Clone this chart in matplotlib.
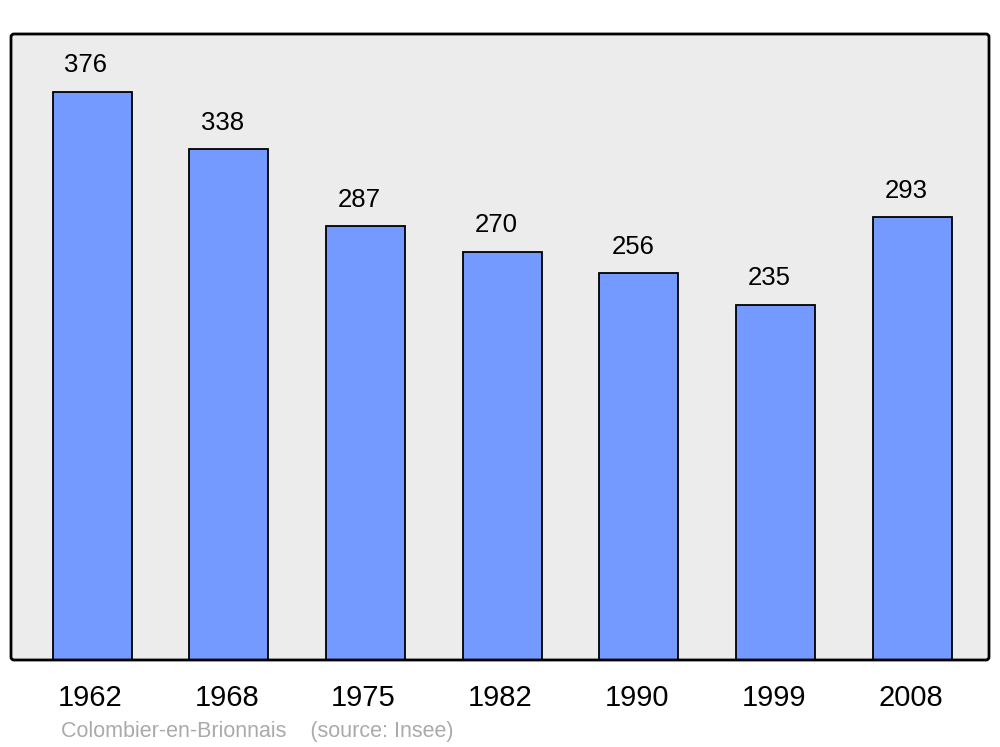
import matplotlib
matplotlib.use("Agg")
import matplotlib.pyplot as plt
import matplotlib.transforms as mtransforms
from matplotlib.patches import FancyBboxPatch

years = ["1962", "1968", "1975", "1982", "1990", "1999", "2008"]
population = [376, 338, 287, 270, 256, 235, 293]
footer = "Colombier-en-Brionnais    (source: Insee)"

plt.rcParams['font.family'] = ['Liberation Sans', 'DejaVu Sans']

fig = plt.figure(figsize=(10, 7.47), dpi=100)
ax = fig.add_axes([0.011, 1 - 660/747, 0.978, (660-34)/747])
ax.set_facecolor('#ececec')
x = list(range(len(years)))
ax.bar(x, population, width=0.578, color='#7499ff', edgecolor='black', linewidth=1.3, zorder=2)
for xi, v in zip(x, population):
    ax.annotate(str(v), (xi, v), xytext=(-4.5, 10.5), textcoords='offset points',
                ha='center', va='bottom', fontsize=18.5)
ax.set_xlim(-0.593, 6.56)
ax.set_ylim(0, 414.3)
ax.set_yticks([])
ax.set_xticks(x)
ax.set_xticklabels(years, fontsize=21)
ax.tick_params(axis='x', length=0, pad=17)
shift = mtransforms.ScaledTranslation(-2/100, 0, fig.dpi_scale_trans)
for lbl in ax.get_xticklabels():
    lbl.set_transform(lbl.get_transform() + shift)
for s in ax.spines.values():
    s.set_visible(False)
frame = FancyBboxPatch((11, 747 - 660), 978, 626, boxstyle="round,pad=0,rounding_size=3",
                       transform=None, facecolor='none', edgecolor='black', linewidth=2,
                       zorder=5)
fig.patches.append(frame)
fig.text(0.061, 1 - 731/747, footer, fontsize=15.5, color='#aaaaaa', va='center')
fig.savefig('out.png', dpi=100)
